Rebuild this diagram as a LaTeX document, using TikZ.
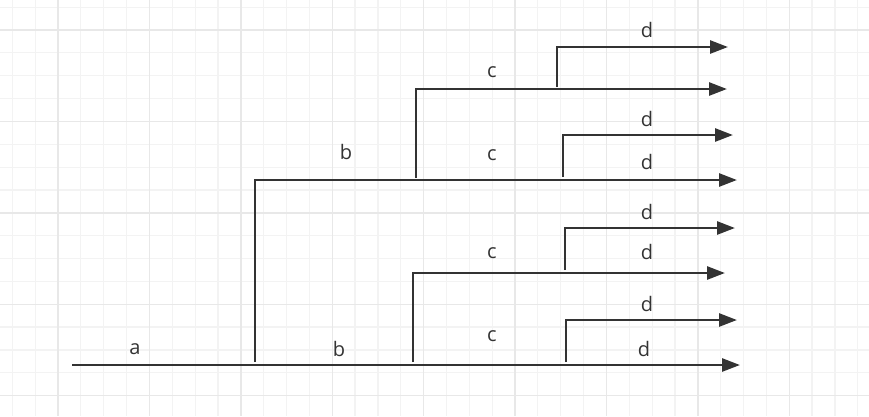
\documentclass[tikz,border=0pt]{standalone}
\usepackage{fontspec}
\setmainfont{Open Sans}
\usetikzlibrary{arrows.meta}
\definecolor{gridminor}{HTML}{F3F3F3}
\definecolor{gridmajor}{HTML}{E8E8E8}
\definecolor{ink}{HTML}{333333}
\tikzset{
  branch/.style={draw=ink, line width=2.7pt, -{Triangle[length=18pt,width=13pt]}},
  lbl/.style={font=\fontsize{20}{22}\selectfont, text=ink, inner sep=0pt}
}
\begin{document}
\begin{tikzpicture}[x=1pt,y=-1pt]

		\def \g {22.85};
		\useasboundingbox (0,0) rectangle (869,416);

		% grid
		\foreach \k in {-2,...,35} {
		    \draw[gridminor, line width=1.2pt] (58+\k*\g,0) -- (58+\k*\g,416);
		}
		\foreach \k in {-1,...,17} {
		    \draw[gridminor, line width=1.2pt] (0,30+\k*\g) -- (869,30+\k*\g);
		}
		\foreach \k in {0,...,8} {
		    \draw[gridmajor, line width=1.4pt] (58+\k*4*\g,0) -- (58+\k*4*\g,416);
		}
		\foreach \k in {0,...,4} {
		    \draw[gridmajor, line width=1.4pt] (0,30+\k*4*\g) -- (869,30+\k*4*\g);
		}

		% branch points
		\coordinate (root) at (72,365);
		\coordinate (rootend) at (740,365);
		\coordinate (b1) at (255,362);
		\coordinate (b1end) at (737,180);
		\coordinate (c1) at (416,178);
		\coordinate (c1end) at (727,89);
		\coordinate (d1) at (557,87);
		\coordinate (d1end) at (728,47);
		\coordinate (d2) at (563,177);
		\coordinate (d2end) at (733,135);
		\coordinate (c2) at (413,362);
		\coordinate (c2end) at (725,273);
		\coordinate (d3) at (565,270);
		\coordinate (d3end) at (735,228);
		\coordinate (d4) at (566,362);
		\coordinate (d4end) at (737,320);

		\draw[branch] (root) -- (rootend);
		\draw[branch] (b1) |- (b1end);
		\draw[branch] (c1) |- (c1end);
		\draw[branch] (d1) |- (d1end);
		\draw[branch] (d2) |- (d2end);
		\draw[branch] (c2) |- (c2end);
		\draw[branch] (d3) |- (d3end);
		\draw[branch] (d4) |- (d4end);

		% labels
		\node[lbl] (la) at (135,349) {a};
		\node[lbl] (lb1) at (346,152) {b};
		\node[lbl] (lb2) at (339,349) {b};
		\node[lbl] (lc1) at (492,72) {c};
		\node[lbl] (lc2) at (492,155) {c};
		\node[lbl] (lc3) at (492,253) {c};
		\node[lbl] (lc4) at (492,336) {c};
		\node[lbl] (ld1) at (647,30) {d};
		\node[lbl] (ld2) at (647,119) {d};
		\node[lbl] (ld3) at (647,162) {d};
		\node[lbl] (ld4) at (647,212) {d};
		\node[lbl] (ld5) at (647,252) {d};
		\node[lbl] (ld6) at (647,304) {d};
		\node[lbl] (ld7) at (644,349) {d};
\end{tikzpicture}
\end{document}
